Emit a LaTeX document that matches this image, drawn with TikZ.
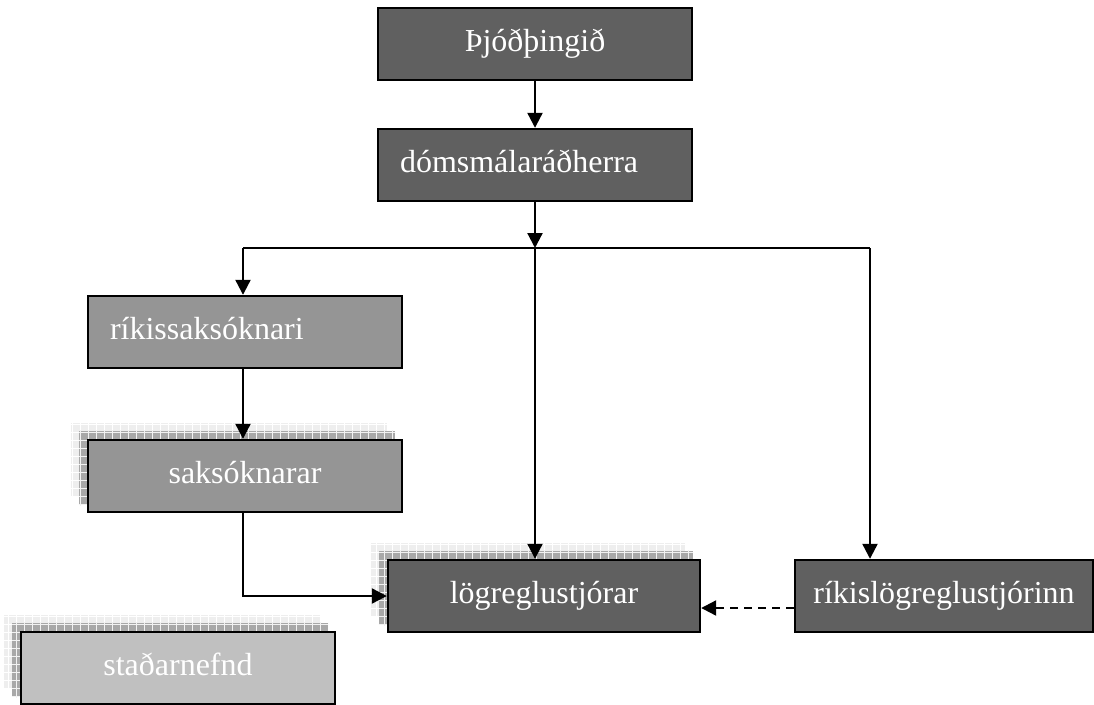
\documentclass[tikz,border=0pt]{standalone}
\usepackage{fontspec}
\setmainfont{Liberation Serif}
\usepackage{tikz}
\usetikzlibrary{calc,arrows.meta,backgrounds,patterns.meta}

\definecolor{boxdark}{HTML}{606060}
\definecolor{boxmid}{HTML}{959595}
\definecolor{boxlight}{HTML}{C0C0C0}
\definecolor{shadenear}{HTML}{A8A8A8}
\definecolor{shadefar}{HTML}{EEEEEE}

\begin{document}
\begin{tikzpicture}[x=1pt,y=-1pt,
    box/.style={draw, line width=2.4pt, text=white, font=\fontsize{32}{38}\selectfont,
        minimum width=314pt, text height=22pt, text depth=8pt, inner ysep=21pt},
    leftbox/.style={box, text width=270pt, align=left, inner xsep=22pt},
    link/.style={line width=2.2pt},
    arrow/.style={link, -{Triangle[length=15pt,width=15pt]}},
    shadenearbox/.style={fill=shadenear, postaction={pattern={Hatch[angle=0,distance=8pt,line width=0.8pt]}, pattern color=white!85!shadenear}},
    shadefarbox/.style={fill=shadefar, postaction={pattern={Hatch[angle=0,distance=8pt,line width=0.8pt]}, pattern color=white}}]
    \useasboundingbox (0,0) rectangle (1094,704);

    \node[box, fill=boxdark] (thing) at (535,44) {Þjóðþingið};
    \node[leftbox, fill=boxdark] (minister) at (535,165) {dómsmálaráðherra};
    \node[leftbox, fill=boxmid] (rikissak) at (245,332) {ríkissaksóknari};
    \node[box, fill=boxmid] (sak) at (245,476) {saksóknarar};
    \node[box, fill=boxdark, minimum width=312pt] (logr) at (544,596) {lögreglustjórar};
    \node[box, fill=boxdark, minimum width=298pt] (rikislog) at (944,596) {ríkislögreglustjórinn};
    \node[box, fill=boxlight] (stad) at (178,668) {staðarnefnd};

    \coordinate (split) at (535,248);
    \coordinate (leftc) at (243,248);
    \coordinate (rightc) at (870,248);

    \draw[arrow] (thing) -- (minister);
    \draw[arrow] (minister) -- (split);
    \draw[link] (leftc) -- (rightc);
    \draw[arrow] (leftc) -- (leftc |- rikissak.north);
    \draw[arrow] (split) -- (split |- logr.north);
    \draw[arrow] (rightc) -- (rightc |- rikislog.north);
    \draw[arrow] (leftc |- rikissak.south) -- (leftc |- sak.north);
    \draw[arrow] (leftc |- sak.south) |- (logr.west);
    \draw[arrow, dash pattern=on 8pt off 6pt] ([yshift=-12pt]rikislog.west) -- ([yshift=-12pt]logr.east);

    \begin{scope}[on background layer]
        \foreach \n in {sak,logr,stad} {
            \fill[shadefarbox] ($(\n.north west)+(-16,-16)$) rectangle ($(\n.south east)+(-16,-16)$);
            \fill[shadenearbox] ($(\n.north west)+(-8,-8)$) rectangle ($(\n.south east)+(-8,-8)$);
        }
    \end{scope}
\end{tikzpicture}
\end{document}
